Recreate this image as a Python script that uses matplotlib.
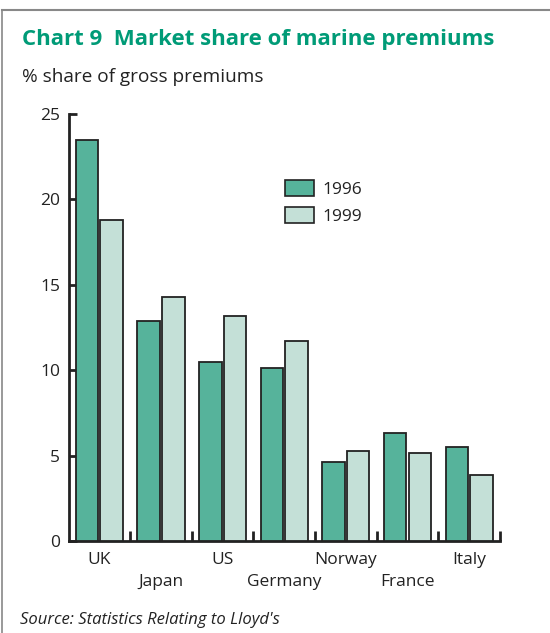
import matplotlib
matplotlib.use("Agg")
import matplotlib.pyplot as plt
from matplotlib.lines import Line2D
from matplotlib.patches import Patch
import numpy as np

countries = ["UK", "Japan", "US", "Germany", "Norway", "France", "Italy"]
share_1996 = [23.5, 12.9, 10.5, 10.1, 4.6, 6.3, 5.5]
share_1999 = [18.8, 14.3, 13.2, 11.7, 5.25, 5.15, 3.85]
years = ["1996", "1999"]
y_ticks = [0, 5, 10, 15, 20, 25]

dark_teal = "#56b39b"
pale_teal = "#c4e0d7"
green_title = "#009b77"
edge = "#222222"

plt.rcParams["font.family"] = ["Open Sans", "DejaVu Sans"]

W, H = 550, 633
fig = plt.figure(figsize=(W / 100, H / 100), dpi=100)
ax = fig.add_axes([68.5 / W, 1 - 541 / H, (500 - 68.5) / W, (541 - 114) / H])

x = np.arange(len(countries))
bw = 0.365
ax.bar(x - 0.2, share_1996, bw, color=dark_teal, edgecolor=edge, linewidth=1.3, zorder=3)
ax.bar(x + 0.2, share_1999, bw, color=pale_teal, edgecolor=edge, linewidth=1.3, zorder=3)

ax.set_xlim(-0.5, len(countries) - 0.5)
ax.set_ylim(0, 25)

for s in ["top", "right"]:
    ax.spines[s].set_visible(False)
for s in ["left", "bottom"]:
    ax.spines[s].set_linewidth(2.0)
    ax.spines[s].set_color("#222222")

ax.set_yticks(y_ticks)
ax.tick_params(axis="y", direction="in", length=6, width=2.0, color="#222222",
               labelsize=12.5, labelcolor="#222222", pad=6)

# group separators as inward ticks on the category axis
ax.set_xticks(np.arange(len(countries)) + 0.5)
ax.set_xticklabels([])
ax.tick_params(axis="x", direction="in", length=7, width=2.0, color="#222222")

# staggered category labels
for i, name in enumerate(countries):
    ypos = -0.65 if i % 2 == 0 else -1.95
    ax.text(i, ypos, name, ha="center", va="top", fontsize=12.5, color="#222222",
            transform=ax.transData, clip_on=False)

handles = [Patch(facecolor=dark_teal, edgecolor=edge, linewidth=1.2),
           Patch(facecolor=pale_teal, edgecolor=edge, linewidth=1.2)]
leg = ax.legend(handles, years, loc="upper left", bbox_to_anchor=(0.502, 0.846),
                frameon=False, fontsize=12.5, handlelength=1.67, handleheight=1.1,
                handletextpad=0.5, labelspacing=0.5, borderaxespad=0, borderpad=0)
for t in leg.get_texts():
    t.set_color("#222222")

fig.text(22 / W, 1 - 40 / H, "Chart 9  Market share of marine premiums",
         fontsize=16, fontweight="bold", color=green_title, va="center", ha="left")
fig.text(22 / W, 1 - 77 / H, "% share of gross premiums",
         fontsize=13.7, color="#222222", va="center", ha="left")
fig.text(20 / W, 1 - 620 / H, "Source: Statistics Relating to Lloyd's",
         fontsize=12, fontstyle="italic", color="#222222", va="center", ha="left")

# frame lines along the top and left edges
fig.add_artist(Line2D([2 / W, 1], [1 - 9.5 / H, 1 - 9.5 / H], transform=fig.transFigure,
                      color="#888888", linewidth=1.5))
fig.add_artist(Line2D([2 / W, 2 / W], [0, 1 - 9.5 / H], transform=fig.transFigure,
                      color="#888888", linewidth=1.2))

fig.savefig("out.png", dpi=100, facecolor="white")
